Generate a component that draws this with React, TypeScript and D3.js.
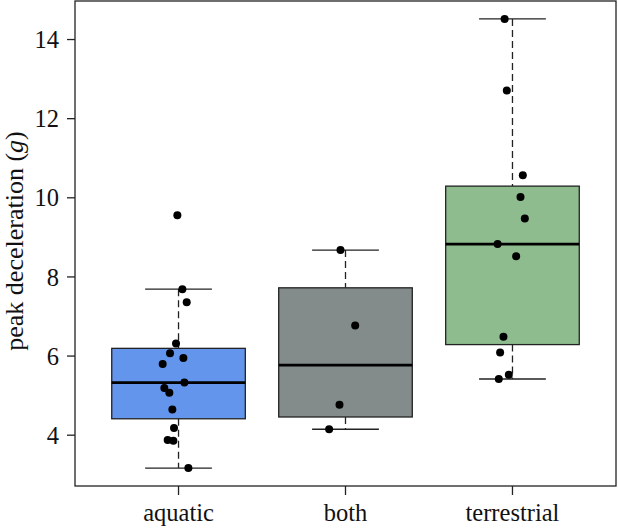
import React from "react";
import * as d3 from "d3";

const categories = ["aquatic", "both", "terrestrial"];
const boxColors = ["#6495ED", "#838B8B", "#8FBC8F"];
const yTicks = [4, 6, 8, 10, 12, 14];

const aquaticValues = [9.56, 7.69, 7.36, 6.32, 6.07, 5.95, 5.8, 5.33, 5.19, 5.07, 4.65, 4.18, 3.88, 3.86, 3.17];
const aquaticJitter = [-0.007, 0.023, 0.049, -0.015, -0.051, 0.029, -0.095, 0.035, -0.085, -0.055, -0.037, -0.027, -0.065, -0.031, 0.059];
const bothValues = [8.68, 6.77, 4.77, 4.15];
const bothJitter = [-0.03, 0.058, -0.036, -0.098];
const terrestrialValues = [14.52, 12.71, 10.57, 10.02, 9.48, 8.83, 8.52, 6.49, 6.09, 5.53, 5.42];
const terrestrialJitter = [-0.047, -0.034, 0.062, 0.048, 0.074, -0.089, 0.022, -0.054, -0.074, -0.022, -0.082];

const W = 618;
const H = 529;
const plot = { left: 75, right: 616, top: 1, bottom: 486 };

function fivenum(v: number[]) {
  const s = [...v].sort((a, b) => a - b);
  const n = s.length;
  const n4 = Math.floor((n + 3) / 2) / 2;
  const idx = [1, n4, (n + 1) / 2, n + 1 - n4, n];
  return idx.map((i) => 0.5 * (s[Math.floor(i) - 1] + s[Math.ceil(i) - 1]));
}

export default function App() {
  const groups = [
    { values: aquaticValues, jitter: aquaticJitter },
    { values: bothValues, jitter: bothJitter },
    { values: terrestrialValues, jitter: terrestrialJitter },
  ];
  const all = groups.flatMap((g) => g.values);
  const ext = d3.extent(all) as [number, number];
  const pad = (ext[1] - ext[0]) * 0.04;
  const y = d3.scaleLinear().domain([ext[0] - pad, ext[1] + pad]).range([plot.bottom, plot.top]);
  const x = d3.scaleLinear().domain([0.38, 3.62]).range([plot.left, plot.right]);
  const font = "'Liberation Serif', 'Times New Roman', serif";
  const fs = 24.5;

  return (
    <svg width={W} height={H} style={{ position: "absolute", left: 0, top: 0 }} fontFamily={font}>
      <rect x={0} y={0} width={W} height={H} fill="#fff" />
      {groups.map((g, i) => {
        const c = i + 1;
        const [, q1, med, q3] = fivenum(g.values);
        const iqr = q3 - q1;
        const inRange = g.values.filter((v) => v >= q1 - 1.5 * iqr && v <= q3 + 1.5 * iqr);
        const lo = d3.min(inRange)!;
        const hi = d3.max(inRange)!;
        const bx0 = x(c - 0.4);
        const bx1 = x(c + 0.4);
        const sx0 = x(c - 0.2);
        const sx1 = x(c + 0.2);
        const cx = x(c);
        return (
          <g key={i}>
            <line x1={cx} x2={cx} y1={y(hi)} y2={y(q3)} stroke="#222" strokeWidth={1.3} strokeDasharray="7,4" />
            <line x1={cx} x2={cx} y1={y(q1)} y2={y(lo)} stroke="#222" strokeWidth={1.3} strokeDasharray="7,4" />
            <line x1={sx0} x2={sx1} y1={y(hi)} y2={y(hi)} stroke="#222" strokeWidth={1.3} />
            <line x1={sx0} x2={sx1} y1={y(lo)} y2={y(lo)} stroke="#222" strokeWidth={1.3} />
            <rect x={bx0} y={y(q3)} width={bx1 - bx0} height={y(q1) - y(q3)} fill={boxColors[i]} stroke="#222" strokeWidth={1.3} />
            <line x1={bx0} x2={bx1} y1={y(med)} y2={y(med)} stroke="#000" strokeWidth={2.8} />
          </g>
        );
      })}
      {groups.map((g, i) =>
        g.values.map((v, j) => (
          <circle key={`${i}-${j}`} cx={x(i + 1 + g.jitter[j])} cy={y(v)} r={4} fill="#000" />
        ))
      )}
      <rect x={plot.left} y={plot.top} width={plot.right - plot.left} height={plot.bottom - plot.top} fill="none" stroke="#222" strokeWidth={1.3} />
      {yTicks.map((t) => (
        <g key={t}>
          <line x1={plot.left - 8} x2={plot.left} y1={y(t)} y2={y(t)} stroke="#222" strokeWidth={1.3} />
          <text x={plot.left - 16} y={y(t)} dy="0.35em" textAnchor="end" fontSize={fs} fill="#111">{t}</text>
        </g>
      ))}
      {categories.map((c, i) => (
        <g key={c}>
          <line x1={x(i + 1)} x2={x(i + 1)} y1={plot.bottom} y2={plot.bottom + 9} stroke="#222" strokeWidth={1.3} />
          <text x={x(i + 1)} y={plot.bottom + 35} textAnchor="middle" fontSize={fs} fill="#111">{c}</text>
        </g>
      ))}
      <text transform={`translate(23, 241) rotate(-90)`} textAnchor="middle" fontSize={26} fill="#111">
        peak deceleration (<tspan fontStyle="italic">g</tspan>)
      </text>
    </svg>
  );
}
